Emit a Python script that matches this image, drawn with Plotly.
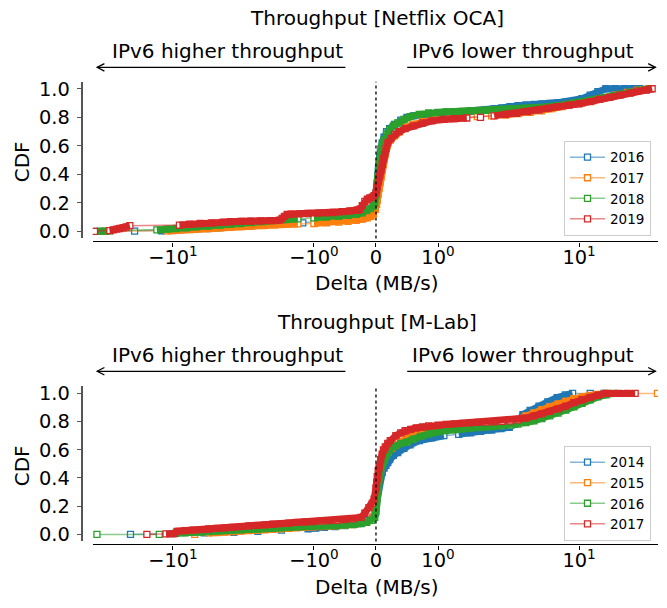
import math
import plotly.graph_objects as go

# ---------------- data: (delta MB/s, CDF) pairs ----------------
nf_2016 = [(-33,0.0),(-18.7,0.002),(-12,0.004),(-10,0.008),(-8.5,0.012),(-7,0.016),(-5.8,0.02),(-4.8,0.025),(-4,0.03),(-3.3,0.035),(-2.7,0.04),(-2.2,0.045),(-1.8,0.05),(-1.5,0.055),(-1.2,0.06),(-0.95,0.066),(-0.75,0.072),(-0.55,0.08),(-0.4,0.088),(-0.28,0.096),(-0.18,0.105),(-0.1,0.12),(-0.05,0.14),(-0.02,0.18),(0.0,0.24),(0.01,0.29),(0.02,0.34),(0.03,0.39),(0.04,0.44),(0.05,0.48),(0.06,0.52),(0.07,0.55),(0.08,0.58),(0.1,0.62),(0.13,0.66),(0.17,0.70),(0.22,0.72),(0.3,0.75),(0.4,0.78),(0.5,0.80),(0.6,0.81),(0.72,0.818),(0.85,0.825),(1.0,0.83),(1.14,0.833),(1.3,0.836),(1.48,0.839),(1.69,0.842),(1.92,0.845),(2.19,0.85),(2.49,0.858),(2.84,0.866),(3.24,0.874),(3.69,0.881),(4.2,0.886),(4.79,0.89),(5.45,0.894),(6.2,0.898),(7.1,0.903),(8.07,0.908),(9.2,0.915),(10.5,0.93),(12,0.955),(13.6,0.98),(15.5,1.0),(18,1.0),(21,1.0),(24,1.0),(27,1.0)]
nf_2017 = [(-30,0.0),(-11,0.003),(-10,0.006),(-9,0.01),(-7.5,0.013),(-6.5,0.017),(-5.5,0.02),(-4.6,0.025),(-3.9,0.029),(-3.3,0.033),(-2.8,0.037),(-2.3,0.041),(-1.9,0.045),(-1.6,0.049),(-1.3,0.052),(-1.0,0.055),(-0.8,0.06),(-0.6,0.065),(-0.45,0.07),(-0.32,0.077),(-0.22,0.085),(-0.14,0.095),(-0.08,0.105),(-0.04,0.125),(-0.01,0.155),(0.01,0.19),(0.02,0.22),(0.035,0.26),(0.05,0.3),(0.065,0.34),(0.08,0.38),(0.095,0.43),(0.11,0.47),(0.125,0.51),(0.14,0.55),(0.16,0.58),(0.18,0.6),(0.23,0.64),(0.3,0.67),(0.38,0.7),(0.48,0.73),(0.6,0.75),(0.75,0.77),(0.95,0.785),(1.2,0.795),(1.5,0.8),(1.9,0.805),(2.4,0.81),(3.0,0.815),(3.7,0.825),(4.5,0.835),(5.4,0.845),(6.4,0.86),(7.6,0.875),(9,0.89),(10.5,0.9),(12.5,0.915),(15,0.935),(18,0.955),(22,0.975),(26,0.99),(31,1.0)]
nf_2018 = [(-34.6,0.0),(-30.3,0.002),(-28,0.003),(-13,0.01),(-11,0.015),(-9.5,0.02),(-8,0.025),(-6.8,0.031),(-5.6,0.037),(-4.6,0.043),(-3.9,0.049),(-3.3,0.055),(-2.8,0.061),(-2.3,0.068),(-1.9,0.075),(-1.6,0.082),(-1.3,0.088),(-1.0,0.095),(-0.8,0.1),(-0.6,0.106),(-0.45,0.112),(-0.32,0.12),(-0.22,0.13),(-0.15,0.145),(-0.09,0.16),(-0.05,0.175),(-0.02,0.2),(0.0,0.25),(0.01,0.29),(0.02,0.33),(0.03,0.375),(0.04,0.42),(0.05,0.46),(0.06,0.5),(0.07,0.53),(0.08,0.56),(0.1,0.6),(0.13,0.64),(0.17,0.68),(0.22,0.71),(0.28,0.74),(0.35,0.76),(0.45,0.785),(0.55,0.805),(0.7,0.82),(0.85,0.83),(1.0,0.835),(1.14,0.838),(1.3,0.84),(1.48,0.842),(1.69,0.844),(1.92,0.846),(2.19,0.849),(2.49,0.852),(2.84,0.855),(3.24,0.858),(3.69,0.86),(4.2,0.862),(4.79,0.865),(5.45,0.868),(6.2,0.874),(7.1,0.882),(8.07,0.89),(9.2,0.9),(10.5,0.908),(12,0.917),(13.6,0.927),(15.5,0.94),(17.6,0.952),(20,0.964),(23,0.977),(27,0.99),(32,1.0)]
nf_2019 = [(-36,0.0),(-28,0.005),(-26.5,0.01),(-25,0.015),(-23.8,0.02),(-22.5,0.025),(-21.5,0.03),(-20.2,0.04),(-9.0,0.044),(-7.6,0.05),(-6.4,0.055),(-5.3,0.06),(-4.4,0.064),(-3.9,0.068),(-3.3,0.07),(-2.8,0.072),(-2.4,0.073),(-2.0,0.075),(-1.75,0.078),(-1.68,0.09),(-1.62,0.105),(-1.55,0.118),(-1.45,0.121),(-1.26,0.122),(-1.1,0.125),(-0.93,0.128),(-0.8,0.13),(-0.69,0.132),(-0.55,0.138),(-0.42,0.143),(-0.3,0.148),(-0.26,0.155),(-0.22,0.18),(-0.18,0.21),(-0.14,0.225),(-0.1,0.235),(-0.06,0.24),(-0.03,0.25),(0.0,0.27),(0.02,0.31),(0.04,0.35),(0.06,0.39),(0.08,0.43),(0.1,0.47),(0.12,0.51),(0.14,0.54),(0.16,0.58),(0.19,0.62),(0.24,0.65),(0.3,0.68),(0.37,0.70),(0.47,0.72),(0.6,0.74),(0.75,0.76),(0.9,0.775),(1.1,0.785),(1.3,0.79),(1.6,0.795),(2.0,0.80),(2.5,0.81),(3.0,0.82),(3.6,0.828),(4.3,0.84),(5.2,0.85),(6.0,0.862),(7.0,0.875),(8.5,0.885),(10,0.895),(12,0.91),(14,0.925),(16.5,0.94),(19.5,0.955),(23,0.97),(26,0.984),(30,0.991),(33,1.0)]

ml_2014 = [(-20,0.0),(-10,0.005),(-6.0,0.01),(-3.7,0.015),(-2.5,0.022),(-1.7,0.03),(-1.1,0.04),(-0.97,0.045),(-0.83,0.05),(-0.66,0.055),(-0.5,0.062),(-0.35,0.072),(-0.22,0.085),(-0.12,0.1),(-0.05,0.12),(-0.02,0.15),(0.0,0.2),(0.01,0.25),(0.02,0.3),(0.035,0.34),(0.05,0.38),(0.075,0.41),(0.1,0.44),(0.13,0.47),(0.16,0.49),(0.19,0.51),(0.22,0.53),(0.28,0.56),(0.35,0.58),(0.45,0.61),(0.55,0.635),(0.7,0.665),(0.9,0.685),(1.1,0.70),(1.4,0.71),(1.7,0.72),(2.0,0.73),(2.4,0.74),(2.8,0.75),(3.2,0.76),(3.5,0.78),(3.7,0.8),(4.0,0.85),(4.5,0.88),(5.2,0.91),(6.0,0.94),(7.0,0.97),(8.0,0.99),(9.0,1.0),(12,1.0),(15,1.0)]
ml_2015 = [(-7.0,0.0),(-5.55,0.01),(-4.87,0.013),(-4.27,0.016),(-3.75,0.02),(-3.29,0.023),(-2.89,0.027),(-2.53,0.03),(-2.22,0.033),(-1.95,0.036),(-1.71,0.04),(-1.5,0.043),(-1.32,0.046),(-1.16,0.049),(-1.02,0.052),(-0.886,0.055),(-0.757,0.058),(-0.629,0.061),(-0.5,0.065),(-0.371,0.07),(-0.242,0.078),(-0.15,0.088),(-0.07,0.105),(-0.03,0.13),(0.0,0.19),(0.01,0.25),(0.02,0.31),(0.035,0.37),(0.05,0.42),(0.075,0.46),(0.1,0.5),(0.13,0.53),(0.16,0.56),(0.2,0.585),(0.25,0.61),(0.32,0.635),(0.4,0.66),(0.5,0.685),(0.6,0.705),(0.72,0.72),(0.85,0.735),(1.0,0.745),(1.14,0.752),(1.3,0.758),(1.48,0.764),(1.69,0.769),(1.92,0.774),(2.19,0.778),(2.49,0.782),(2.84,0.788),(3.24,0.797),(3.69,0.815),(4.2,0.84),(4.79,0.862),(5.45,0.885),(6.2,0.905),(7.1,0.925),(8.07,0.945),(9.2,0.962),(10.5,0.975),(12,0.985),(13.6,0.993),(16,1.0),(36,1.0)]
ml_2016 = [(-34.6,0.0),(-12.5,0.0),(-9.5,0.008),(-8.22,0.011),(-7.21,0.014),(-6.33,0.017),(-5.55,0.02),(-4.87,0.023),(-4.27,0.026),(-3.75,0.029),(-3.29,0.032),(-2.89,0.035),(-2.53,0.038),(-2.22,0.041),(-1.95,0.044),(-1.71,0.047),(-1.5,0.05),(-1.32,0.053),(-1.16,0.055),(-1.02,0.057),(-0.886,0.059),(-0.757,0.061),(-0.629,0.063),(-0.5,0.066),(-0.371,0.07),(-0.242,0.076),(-0.15,0.085),(-0.07,0.1),(-0.02,0.12),(0.0,0.16),(0.01,0.22),(0.02,0.28),(0.03,0.33),(0.04,0.38),(0.055,0.42),(0.07,0.45),(0.09,0.48),(0.11,0.5),(0.13,0.53),(0.16,0.56),(0.19,0.58),(0.22,0.6),(0.3,0.625),(0.4,0.645),(0.5,0.655),(0.6,0.675),(0.72,0.695),(0.85,0.715),(1.0,0.728),(1.14,0.736),(1.3,0.742),(1.48,0.747),(1.69,0.752),(1.92,0.757),(2.19,0.761),(2.49,0.765),(2.84,0.77),(3.24,0.775),(3.69,0.782),(4.2,0.793),(4.79,0.806),(5.45,0.822),(6.2,0.84),(7.1,0.86),(8.07,0.882),(9.2,0.905),(10.5,0.93),(12,0.955),(13.6,0.975),(15.5,0.99),(17.5,1.0)]
ml_2017 = [(-15.3,0.0),(-11.2,0.003),(-9.8,0.005),(-9.36,0.022),(-8.22,0.026),(-7.21,0.03),(-6.33,0.034),(-5.55,0.038),(-4.87,0.042),(-4.27,0.046),(-3.75,0.05),(-3.29,0.055),(-2.89,0.06),(-2.53,0.064),(-2.22,0.068),(-1.95,0.072),(-1.71,0.076),(-1.5,0.08),(-1.32,0.085),(-1.16,0.088),(-1.02,0.091),(-0.886,0.094),(-0.757,0.097),(-0.629,0.1),(-0.5,0.104),(-0.371,0.11),(-0.242,0.12),(-0.18,0.15),(-0.113,0.19),(-0.06,0.22),(-0.03,0.25),(0.0,0.33),(0.01,0.37),(0.02,0.41),(0.035,0.45),(0.05,0.48),(0.075,0.53),(0.1,0.57),(0.12,0.6),(0.15,0.62),(0.19,0.645),(0.23,0.665),(0.32,0.70),(0.4,0.72),(0.47,0.735),(0.56,0.745),(0.65,0.755),(0.75,0.762),(0.85,0.77),(1.0,0.775),(1.14,0.78),(1.3,0.784),(1.48,0.788),(1.69,0.792),(1.92,0.795),(2.19,0.797),(2.49,0.799),(2.84,0.801),(3.24,0.805),(3.69,0.812),(4.2,0.825),(4.79,0.84),(5.45,0.855),(6.2,0.872),(7.1,0.89),(8.07,0.91),(9.2,0.935),(10.5,0.955),(12,0.972),(13.6,0.987),(15.5,1.0),(19,1.0),(22,1.0),(25,1.0)]

top_series = [("2016", nf_2016), ("2017", nf_2017), ("2018", nf_2018), ("2019", nf_2019)]
bot_series = [("2014", ml_2014), ("2015", ml_2015), ("2016", ml_2016), ("2017", ml_2017)]
colors = ["#1f77b4", "#ff7f0e", "#2ca02c", "#d62728"]
alphas = ["rgba(31,119,180,0.55)", "rgba(255,127,14,0.55)", "rgba(44,160,44,0.55)", "rgba(214,39,40,0.55)"]

x_tick_values = [-10, -1, 0, 1, 10]
x_tick_text = ["\u221210<sup>1</sup>", "\u221210<sup>0</sup>", "0", "10<sup>0</sup>", "10<sup>1</sup>"]
y_tick_values = [0.0, 0.2, 0.4, 0.6, 0.8, 1.0]
y_tick_text = ["0.0", "0.2", "0.4", "0.6", "0.8", "1.0"]

# ---------------- symmetric-log scale (linear within |x|<=1) ----------------
LIN = 0.44
def symlog(v):
    if abs(v) <= 1:
        return LIN * v
    return math.copysign(LIN + math.log10(abs(v)), v)

W, H = 667, 608
FONT = "DejaVu Sans"
PX_PER_X = 141.0     # pixels per symlog unit
PX_PER_Y = 144.0     # pixels per CDF unit
BAND_GAP = 13.0      # markers closer than this merge into a solid band

def px(x):
    return x / W
def py(y):
    return 1 - y / H

def band_xy(xs, ys):
    bx, by = [], []
    for i in range(len(xs)):
        bx.append(xs[i]); by.append(ys[i])
        if i + 1 < len(xs):
            d = math.hypot((xs[i + 1] - xs[i]) * PX_PER_X, (ys[i + 1] - ys[i]) * PX_PER_Y)
            if d > BAND_GAP:
                bx.append(None); by.append(None)
    return bx, by

fig = go.Figure()

def add_series(series, xa, ya, leg):
    for i, (name, pts) in enumerate(series):
        xs = [symlog(d) for d, c in pts]
        ys = [c for d, c in pts]
        fig.add_trace(go.Scatter(
            x=xs, y=ys, name=name, mode="lines+markers", xaxis=xa, yaxis=ya, legend=leg,
            line=dict(color=alphas[i], width=1.5),
            marker=dict(symbol="square", size=6, color="white", line=dict(color=colors[i], width=1.3)),
        ))
        bx, by = band_xy(xs, ys)
        fig.add_trace(go.Scatter(
            x=bx, y=by, mode="lines", xaxis=xa, yaxis=ya, showlegend=False, hoverinfo="skip",
            connectgaps=False, line=dict(color=colors[i], width=7),
        ))

add_series(top_series, "x", "y", "legend")
add_series(bot_series, "x2", "y2", "legend2")

XR = [-2.009, 2.0]
panels = [
    (78.8, 238.0, 241.0, ""),
    (388.1, 545.5, 548.5, "2"),
]
x_dom = [92.7 / W, 658 / W]

layout_axes = {}
for top, bot, spine, sfx in panels:
    layout_axes["xaxis" + sfx] = dict(
        domain=x_dom, range=XR, anchor="free", position=py(spine),
        showline=True, linecolor="black", linewidth=1.4, showgrid=False, zeroline=False,
        tickmode="array", tickvals=[symlog(v) for v in x_tick_values], ticktext=x_tick_text,
        ticks="outside", ticklen=4, tickwidth=1.2, tickcolor="black",
        tickfont=dict(family=FONT, size=19.4, color="black"), ticklabelstandoff=-6,
    )
    layout_axes["yaxis" + sfx] = dict(
        domain=[py(bot), py(top)], range=[-0.05, 1.05], anchor="free", position=px(81.7),
        showline=True, linecolor="#555555", linewidth=2, showgrid=False, zeroline=False,
        tickmode="array", tickvals=y_tick_values, ticktext=y_tick_text,
        ticks="outside", ticklen=4, tickwidth=1.2, tickcolor="#555555",
        tickfont=dict(family=FONT, size=19.4, color="black"), ticklabelstandoff=3,
    )
fig.update_layout(**layout_axes)

shapes = []
annotations = []
titles = ["Throughput [Netflix OCA]", "Throughput [M-Lab]"]
TXT = 20
for k, (top, bot, spine, sfx) in enumerate(panels):
    off = 0 if k == 0 else 308.5
    xref = "x" + sfx
    yref = "y" + sfx
    shapes.append(dict(type="line", xref=xref, yref=yref + " domain", x0=0, x1=0, y0=0, y1=1,
                       line=dict(color="black", width=1.3, dash="dot"), layer="above"))
    ay = 64.3 + off
    for tail, head in [(345.4, 97.2), (407.2, 655.4)]:
        shapes.append(dict(type="line", xref="paper", yref="paper", x0=px(tail), x1=px(head),
                           y0=py(ay), y1=py(ay), line=dict(color="black", width=1.3)))
        d = 7.2 if head < tail else -7.2
        path = "M {} {} L {} {} L {} {}".format(px(head + d), py(ay - 3.8), px(head), py(ay), px(head + d), py(ay + 3.8))
        shapes.append(dict(type="path", xref="paper", yref="paper", path=path, line=dict(color="black", width=1.3)))
    def txt(text, x, y, angle=0):
        annotations.append(dict(text=text, x=px(x), y=py(y), xref="paper", yref="paper",
                                showarrow=False, xanchor="center", yanchor="middle", textangle=angle,
                                font=dict(family=FONT, size=TXT, color="black")))
    txt(titles[k], 376.5, 14 + off)
    txt("IPv6 higher throughput", 227.7, 47.5 + off)
    txt("IPv6 lower throughput", 523, 47.5 + off)
    txt("Delta (MB/s)", 376, 283 + off)
    txt("CDF", 21.7, 160 + off, -90)

legend_common = dict(
    xanchor="left", yanchor="top", bgcolor="rgba(255,255,255,0.8)", bordercolor="#cccccc", borderwidth=1,
    font=dict(family=FONT, size=13.5, color="black"), itemwidth=35, tracegroupgap=0,
)
fig.update_layout(
    width=W, height=H, margin=dict(l=0, r=0, t=0, b=0),
    paper_bgcolor="white", plot_bgcolor="white",
    font=dict(family=FONT, color="black"),
    shapes=shapes, annotations=annotations,
    legend=dict(x=px(564), y=py(139), **legend_common),
    legend2=dict(x=px(564), y=py(448.5), **legend_common),
    showlegend=True,
)

fig.write_html("out.html")
